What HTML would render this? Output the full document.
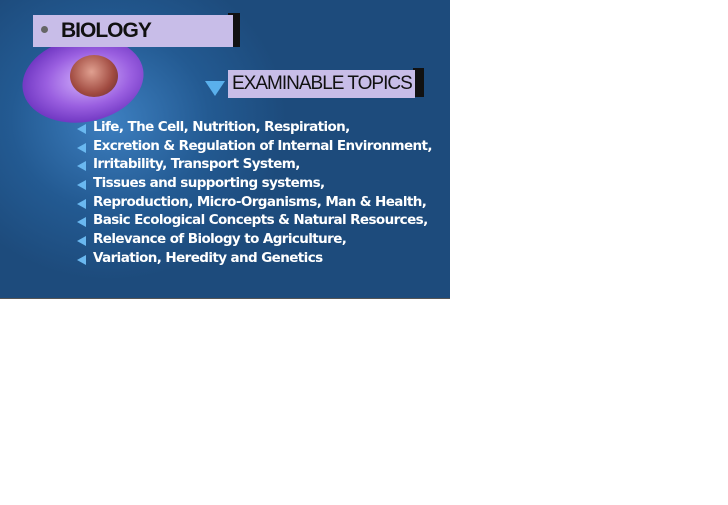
<!DOCTYPE html>
<html><head><meta charset="utf-8"><style>
body{margin:0;width:728px;height:505px;background:#fff;overflow:hidden;font-family:"Liberation Sans",sans-serif}
#slide{position:absolute;left:0;top:0;width:450px;height:298px;background:radial-gradient(ellipse 220px 200px at 110px 120px,#3d7fc0 0%,#235a92 45%,#1d4b7c 80%);overflow:hidden;border-bottom:1px solid #555}
.banner{position:absolute;background:#c8bde8;color:#111;font-weight:bold}
.shadow{position:absolute;background:#111}
#cell{position:absolute;left:22px;top:38px;width:122px;height:84px;border-radius:50%;background:radial-gradient(ellipse at 55% 50%,#d8b8ff 0%,#9a5fe0 45%,#6d34c0 75%,rgba(90,60,200,0.3) 100%);transform:rotate(-10deg)}
#nuc{position:absolute;left:70px;top:55px;width:48px;height:42px;border-radius:50%;background:radial-gradient(circle at 45% 40%,#e0a090,#a04a40 60%,#5a2a30)}
ul{position:absolute;left:77px;top:118px;margin:0;padding:0;list-style:none}
li{height:18.7px;line-height:18.7px;color:#fff;font-weight:bold;font-size:13.5px;white-space:nowrap;position:relative;padding-left:16px;font-family:"DejaVu Sans",sans-serif;letter-spacing:-0.6px}
li:before{content:"";position:absolute;left:0;top:6px;width:0;height:0;border-top:5px solid transparent;border-bottom:5px solid transparent;border-right:9px solid #6ab8f0}
</style></head><body>
<div id="slide">
 <div id="cell"></div>
 <div id="nuc"></div>
 <div class="shadow" style="left:228px;top:13px;width:12px;height:34px"></div>
 <div class="banner" style="left:33px;top:15px;width:200px;height:32px">
  <span style="position:absolute;left:8px;top:11px;width:7px;height:7px;border-radius:50%;background:#666"></span>
  <span style="position:absolute;left:28px;top:4px;font-size:21px;letter-spacing:-1px">BIOLOGY</span></div>
 <div class="shadow" style="left:413px;top:68px;width:11px;height:29px"></div>
 <div class="banner" style="left:228px;top:70px;width:187px;height:28px;font-weight:normal">
  <span style="position:absolute;left:4px;top:3px;font-size:19px;letter-spacing:-1px">EXAMINABLE TOPICS</span></div>
 <div style="position:absolute;left:205px;top:81px;width:0;height:0;border-left:10px solid transparent;border-right:10px solid transparent;border-top:15px solid #5ab0ec"></div>
 <ul>
  <li>Life, The Cell, Nutrition, Respiration,</li>
  <li>Excretion &amp; Regulation of Internal Environment,</li>
  <li>Irritability, Transport System,</li>
  <li>Tissues and supporting systems,</li>
  <li>Reproduction, Micro-Organisms, Man &amp; Health,</li>
  <li>Basic Ecological Concepts &amp; Natural Resources,</li>
  <li>Relevance of Biology to Agriculture,</li>
  <li>Variation, Heredity and Genetics</li>
 </ul>
</div>
</body></html>
